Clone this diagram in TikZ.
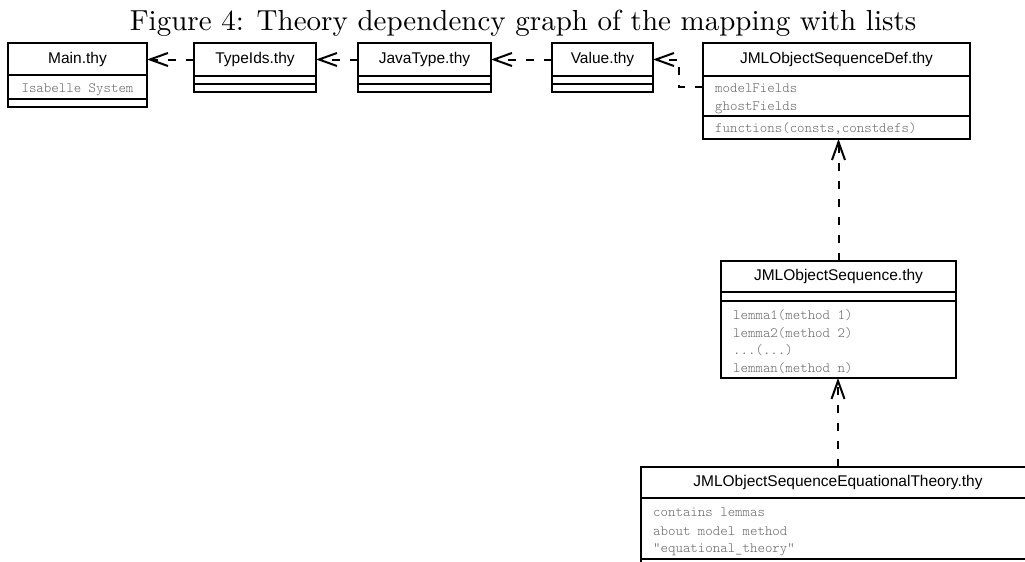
\documentclass[tikz,border=0pt]{standalone}
\usepackage{fontspec}
\newfontfamily\sanss{Liberation Sans}
\newfontfamily\monos[Extension=.otf]{lmmonolt10-regular}
\newfontfamily\titlefont[Extension=.otf]{lmroman10-regular}
\usetikzlibrary{arrows.meta}
\tikzset{
  box/.style={draw, line width=2pt, inner sep=0pt, outer sep=0pt, anchor=north west},
  hdr/.style={box, font=\sanss\fontsize{15.5}{18}\selectfont},
  comp/.style={box},
  txt/.style={font=\monos\fontsize{14.2}{16}\selectfont, text=black!60, inner sep=0pt, anchor=base west},
  dep/.style={line width=2pt, dash pattern=on 8pt off 10pt, -{Straight Barb[length=18pt,width=13pt]}},
}
\begin{document}
\begin{tikzpicture}[x=1pt,y=-1pt]
\useasboundingbox (0,0) rectangle (1025,562);
\clip (0,0) rectangle (1025,562);
\node[font=\titlefont\fontsize{29}{34}\selectfont, anchor=base, inner sep=0pt] (title) at (523,30) {Figure 4: Theory dependency graph of the mapping with lists};

% Main.thy
\node[hdr, minimum width=139pt, minimum height=32pt] (main) at (8,43) {Main.thy};
\node[comp, minimum width=139pt, minimum height=24pt] (mainA) at (main.south west) {};
\node[comp, minimum width=139pt, minimum height=8pt] (mainB) at (mainA.south west) {};
\node[txt, anchor=base] (mainT) at (77.5,92) {Isabelle System};

% TypeIds.thy
\node[hdr, minimum width=122pt, minimum height=33pt] (typeids) at (194,43) {TypeIds.thy};
\node[comp, minimum width=122pt, minimum height=8pt] (typeidsA) at (typeids.south west) {};
\node[comp, minimum width=122pt, minimum height=8pt] (typeidsB) at (typeidsA.south west) {};

% JavaType.thy
\node[hdr, minimum width=133pt, minimum height=33pt] (javatype) at (358,43) {JavaType.thy};
\node[comp, minimum width=133pt, minimum height=8pt] (javatypeA) at (javatype.south west) {};
\node[comp, minimum width=133pt, minimum height=8pt] (javatypeB) at (javatypeA.south west) {};

% Value.thy
\node[hdr, minimum width=101pt, minimum height=33pt] (value) at (552,43) {Value.thy};
\node[comp, minimum width=101pt, minimum height=8pt] (valueA) at (value.south west) {};
\node[comp, minimum width=101pt, minimum height=8pt] (valueB) at (valueA.south west) {};

% JMLObjectSequenceDef.thy
\node[hdr, minimum width=267pt, minimum height=33pt] (def) at (703,43) {JMLObjectSequenceDef.thy};
\node[comp, minimum width=267pt, minimum height=40pt] (defA) at (def.south west) {};
\node[comp, minimum width=267pt, minimum height=23pt] (defB) at (defA.south west) {};
\node[txt] (defT1) at (715,92) {modelFields};
\node[txt] (defT2) at (715,110) {ghostFields};
\node[txt] (defT3) at (715,132) {functions(consts,constdefs)};

% JMLObjectSequence.thy
\node[hdr, minimum width=235pt, minimum height=31pt] (seq) at (721,261) {JMLObjectSequence.thy};
\node[comp, minimum width=235pt, minimum height=9pt] (seqA) at (seq.south west) {};
\node[comp, minimum width=235pt, minimum height=77pt] (seqB) at (seqA.south west) {};
\node[txt] (seqT1) at (733,319) {lemma1(method 1)};
\node[txt] (seqT2) at (733,337) {lemma2(method 2)};
\node[txt] (seqT3) at (733,354) {...(...)};
\node[txt] (seqT4) at (733,372) {lemman(method n)};

% JMLObjectSequenceEquationalTheory.thy
\node[hdr, minimum width=394pt, minimum height=31pt] (eq) at (641,467) {JMLObjectSequenceEquationalTheory.thy};
\node[comp, minimum width=394pt, minimum height=61pt] (eqA) at (eq.south west) {};
\node[comp, minimum width=394pt, minimum height=30pt] (eqB) at (eqA.south west) {};
\node[txt] (eqT1) at (653,516) {contains lemmas};
\node[txt] (eqT2) at (653,535) {about model method};
\node[txt] (eqT3) at (653,552) {"equational\_theory"};

% dependencies
\draw[dep] (typeids.west) -- (typeids.west -| main.east);
\draw[dep] (javatype.west) -- (typeids.east);
\draw[dep] (value.west) -- (javatype.east);
\coordinate (bend) at (679,87);
\draw[dep] (defA.west |- bend) -- (bend) |- (value.east);
\draw[dep] (seq.north) -- (seq.north |- defB.south);
\draw[dep] (eq.north) -- (eq.north |- seqB.south);
\end{tikzpicture}
\end{document}
